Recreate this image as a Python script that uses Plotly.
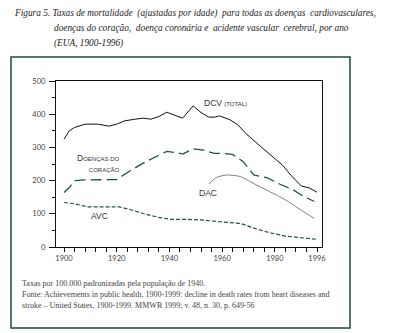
import plotly.graph_objects as go

# ---- data ----
dcv_years = [1900, 1902, 1904, 1908, 1913, 1917, 1920, 1923, 1927, 1930, 1933, 1936, 1939, 1942, 1945,
             1949, 1952, 1955, 1957, 1959, 1963, 1966, 1969, 1974, 1979, 1983, 1986, 1990, 1993, 1996]
dcv_values = [325, 350, 360, 370, 370, 364, 370, 380, 385, 388, 385, 393, 406, 398, 388,
              425, 405, 391, 391, 395, 383, 368, 342, 307, 272, 246, 217, 184, 178, 165]

heart_years = [1900, 1902, 1904, 1908, 1920, 1925, 1931, 1936, 1939, 1943, 1945, 1949, 1953, 1957, 1960,
               1964, 1968, 1972, 1977, 1982, 1987, 1991, 1995]
heart_values = [164, 179, 200, 202, 203, 229, 257, 277, 288, 284, 280, 296, 292, 282, 282,
                279, 257, 217, 209, 189, 172, 152, 137]

avc_years = [1900, 1904, 1909, 1915, 1921, 1925, 1930, 1936, 1941, 1947, 1953, 1959, 1967, 1972, 1978,
             1984, 1991, 1996]
avc_values = [134, 130, 121, 120, 121, 113, 101, 89, 83, 83, 81, 76, 71, 57, 43, 33, 26, 23]

dac_years = [1955, 1958, 1962, 1967, 1973, 1978, 1984, 1990, 1995]
dac_values = [190, 210, 217, 212, 187, 167, 142, 111, 86]

x_tick_vals = [1900, 1920, 1940, 1960, 1980, 1996]
x_tick_text = ["1900", "1920", "1940", "1960", "1980", "1996"]
y_tick_vals = [0, 100, 200, 300, 400, 500]

title_lines = [
    "Figura 5. Taxas de mortalidade  (ajustadas por idade)  para todas as doenças  cardiovasculares,",
    "doenças do coração,  doença coronária e  acidente vascular  cerebral, por ano",
    "(EUA, 1900-1996)",
]
note_lines = [
    "Taxas por 100.000 padronizadas pela população de 1940.",
    "Fonte: Achievements in public health, 1900-1999: decline in death rates from heart diseases and",
    "stroke – United States, 1900-1999. MMWR 1999; v. 48, n. 30, p. 649-56",
]

# ---- layout geometry (pixels) ----
W, H = 397, 333
L, R, T, B = 56, 322, 81, 247


def px(x):
    return (x - L) / (R - L)


def py(y):
    return (B - y) / (B - T)


GREEN = "#1f5544"
fig = go.Figure()

fig.add_trace(go.Scatter(x=dcv_years, y=dcv_values, mode="lines",
                         line=dict(color="#111111", width=1)))
fig.add_trace(go.Scatter(x=heart_years, y=heart_values, mode="lines",
                         line=dict(color=GREEN, width=1.3, dash="11px,5px")))
fig.add_trace(go.Scatter(x=avc_years, y=avc_values, mode="lines",
                         line=dict(color=GREEN, width=1.2, dash="4px,2px")))
fig.add_trace(go.Scatter(x=dac_years, y=dac_values, mode="lines",
                         line=dict(color="#808080", width=1, shape="spline", smoothing=0.6)))

annotations = []
title_font = dict(family="Liberation Serif", size=9.3, color="#222222", style="italic")
annotations.append(dict(x=px(12), y=py(13), text=title_lines[0]))
annotations.append(dict(x=px(52), y=py(28), text=title_lines[1]))
annotations.append(dict(x=px(52), y=py(43), text=title_lines[2]))
for a in annotations:
    a.update(xref="paper", yref="paper", xanchor="left", yanchor="middle",
             showarrow=False, font=title_font)

note_font = dict(family="Liberation Serif", size=8, color="#444444")
for i, (yy, t) in enumerate(zip([283, 294, 305], note_lines)):
    annotations.append(dict(x=px(20), y=py(yy), text=t, xref="paper", yref="paper",
                            xanchor="left", yanchor="middle", showarrow=False, font=note_font))

lab_font = dict(family="Liberation Sans Narrow, Liberation Sans", size=8.5, color="#333333")
sc = "<span style='font-size:6px'>%s</span>"
annotations.append(dict(x=px(202), y=py(103), text="DCV " + sc % "(TOTAL)",
                        xanchor="left"))
annotations.append(dict(x=px(121), y=py(163), text="D" + sc % "OENÇAS DO" + "<br>" + sc % "CORAÇÃO",
                        xanchor="right", align="right"))
annotations.append(dict(x=px(208), y=py(193), text="DAC", xanchor="center"))
annotations.append(dict(x=px(99), y=py(216), text="AVC", xanchor="center"))
for a in annotations[-4:]:
    a.update(xref="paper", yref="paper", yanchor="middle", showarrow=False, font=lab_font)

shapes = [dict(type="rect", xref="paper", yref="paper",
               x0=px(11), x1=px(350), y0=py(57), y1=py(328),
               line=dict(color="#1e4a3a", width=1.5), fillcolor="rgba(0,0,0,0)", layer="below")]

fig.update_layout(
    width=W, height=H,
    margin=dict(l=L, r=W - R, t=T, b=H - B, pad=0),
    paper_bgcolor="white", plot_bgcolor="white",
    showlegend=False,
    annotations=annotations,
    shapes=shapes,
    xaxis=dict(range=[1900 - 8 / 2.635, 1996 + 5 / 2.635], tickvals=x_tick_vals, ticktext=x_tick_text,
               ticks="outside", ticklen=4, tickwidth=1, tickcolor="#111111",
               minor=dict(tick0=1900, dtick=4, ticks="outside", ticklen=4, tickwidth=1, tickcolor="#111111"),
               showline=True, linecolor="#111111", linewidth=1.2, mirror=True,
               showgrid=False, zeroline=False,
               tickfont=dict(family="Lato", size=7.5, color="#444444")),
    yaxis=dict(range=[0, 500], tickvals=y_tick_vals,
               ticks="outside", ticklen=6, tickwidth=1, tickcolor="#111111",
               minor=dict(dtick=50, ticks="outside", ticklen=3, tickwidth=1, tickcolor="#111111"),
               showline=True, linecolor="#111111", linewidth=1.2, mirror=True,
               showgrid=False, zeroline=False, ticklabelstandoff=2,
               tickfont=dict(family="Lato", size=7.5, color="#444444")),
)

fig.write_html("out.html")
